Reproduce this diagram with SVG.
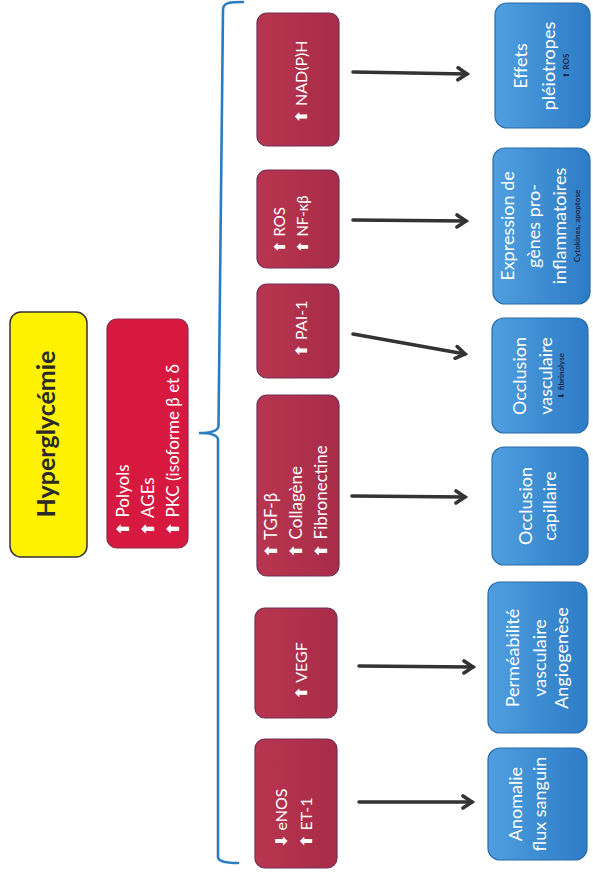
<svg xmlns="http://www.w3.org/2000/svg" width="593" height="881" viewBox="0 0 593 881">
<defs>
<linearGradient id="gBlue" x1="0" y1="0" x2="1" y2="0">
<stop offset="0" stop-color="#4f9fe0"/>
<stop offset="1" stop-color="#2d7cc6"/>
</linearGradient>
<linearGradient id="gRed" x1="0" y1="0" x2="1" y2="0">
<stop offset="0" stop-color="#b9354f"/>
<stop offset="1" stop-color="#a82c48"/>
</linearGradient>
<marker id="arr" markerUnits="userSpaceOnUse" markerWidth="16" markerHeight="16" refX="12" refY="8" orient="auto">
<path d="M3,2 L12,8 L3,14" fill="none" stroke="#333" stroke-width="3.6" stroke-linejoin="miter" stroke-linecap="round"/>
</marker>
</defs>
<style>
.t{font-family:Lato,"Open Sans","DejaVu Sans",sans-serif;}
.w{fill:#ffffff;}
.red{fill:url(#gRed);stroke:#6e3058;stroke-width:1.2;}
.red2{fill:#d7183f;stroke:#8a2a4a;stroke-width:1.2;}
.blue{fill:url(#gBlue);stroke:#2a6aa8;stroke-width:1.2;}
.ar{font-family:"DejaVu Sans",sans-serif;font-weight:bold;}
.sm{fill:#1b2a4c;font-weight:bold;}
.conn{stroke:#333;stroke-width:3.6;fill:none;stroke-linecap:round;}
</style>
<rect width="593" height="881" fill="#ffffff"/>

<g id="hyperglycemie">
<rect x="10" y="312" width="77" height="245" rx="11" fill="#fff200" stroke="#333" stroke-width="1.5"/>
<text class="t" x="55" y="434" transform="rotate(-90 55 434)" text-anchor="middle" font-size="25" font-weight="bold" fill="#2a2a2a">Hyperglycémie</text>
</g>

<g id="voies">
<rect class="red2" x="107" y="319" width="81" height="229" rx="10"/>
<text class="t w" font-size="17" x="129" y="536" transform="rotate(-90 129 536)"><tspan class="ar">⬆</tspan> Polyols</text>
<text class="t w" font-size="17" x="154" y="536" transform="rotate(-90 154 536)"><tspan class="ar">⬆</tspan> AGEs</text>
<text class="t w" font-size="17" x="179" y="536" transform="rotate(-90 179 536)"><tspan class="ar">⬆</tspan> PKC (isoforme β et δ</text>
</g>

<g id="brace">
<path d="M243,2 C228,2 223,3 223,10 L218.5,426 Q218,433 199,433 Q218,433 218,440 L218,857 Q218,863 238,863" fill="none" stroke="#2b7cc1" stroke-width="2.6" stroke-linecap="round"/>
</g>

<g id="nadph">
<rect class="red" x="257" y="13" width="82" height="133" rx="10"/>
<text class="t w" font-size="16" x="307" y="82" text-anchor="middle" transform="rotate(-90 307 82)"><tspan class="ar">⬆</tspan> NAD(P)H</text>
</g>

<g id="ros">
<rect class="red" x="257" y="170" width="82" height="98" rx="10"/>
<text class="t w" font-size="15" x="285" y="253" transform="rotate(-90 285 253)"><tspan class="ar">⬆</tspan> ROS</text>
<text class="t w" font-size="15" x="308" y="253" transform="rotate(-90 308 253)"><tspan class="ar">⬆</tspan> NF-κβ</text>
</g>

<g id="pai1">
<rect class="red" x="257" y="284" width="82" height="94" rx="10"/>
<text class="t w" font-size="16" x="307" y="329" text-anchor="middle" transform="rotate(-90 307 329)"><tspan class="ar">⬆</tspan> PAI-1</text>
</g>

<g id="tgf">
<rect class="red" x="257" y="395" width="82" height="181" rx="10"/>
<text class="t w" font-size="17" x="277" y="558" transform="rotate(-90 277 558)"><tspan class="ar">⬆</tspan> TGF-β</text>
<text class="t w" font-size="17" x="302" y="558" transform="rotate(-90 302 558)"><tspan class="ar">⬆</tspan> Collagène</text>
<text class="t w" font-size="17" x="327" y="558" transform="rotate(-90 327 558)"><tspan class="ar">⬆</tspan> Fibronectine</text>
</g>

<g id="vegf">
<rect class="red" x="255" y="608" width="82" height="110" rx="10"/>
<text class="t w" font-size="16" x="307" y="671" text-anchor="middle" transform="rotate(-90 307 671)"><tspan class="ar">⬆</tspan> VEGF</text>
</g>

<g id="enos">
<rect class="red" x="255" y="739" width="82" height="129" rx="10"/>
<text class="t w" font-size="16" x="287" y="848" transform="rotate(-90 287 848)"><tspan class="ar">⬇</tspan> eNOS</text>
<text class="t w" font-size="16" x="312" y="848" transform="rotate(-90 312 848)"><tspan class="ar">⬆</tspan> ET-1</text>
</g>

<g id="effets">
<rect class="blue" x="495" y="3" width="95" height="125" rx="12"/>
<text class="t w" font-size="18" x="527" y="66" text-anchor="middle" transform="rotate(-90 527 66)">Effets</text>
<text class="t w" font-size="18" x="555" y="66" text-anchor="middle" transform="rotate(-90 555 66)">pléiotropes</text>
<text class="t sm" font-size="8" x="569" y="66" text-anchor="middle" transform="rotate(-90 569 66)"><tspan class="ar">⬆</tspan> ROS</text>
</g>

<g id="expression">
<rect class="blue" x="493" y="148" width="97" height="156" rx="12"/>
<text class="t w" font-size="18" x="514" y="226" text-anchor="middle" transform="rotate(-90 514 226)">Expression de</text>
<text class="t w" font-size="18" x="540" y="226" text-anchor="middle" transform="rotate(-90 540 226)">gènes pro-</text>
<text class="t w" font-size="18" x="566" y="226" text-anchor="middle" transform="rotate(-90 566 226)">inflammatoires</text>
<text class="t sm" font-size="8" x="580" y="226" text-anchor="middle" transform="rotate(-90 580 226)">Cytokines, apoptose</text>
</g>

<g id="occl-vasc">
<rect class="blue" x="492" y="318" width="96" height="115" rx="12"/>
<text class="t w" font-size="18" x="526" y="376" text-anchor="middle" transform="rotate(-90 526 376)">Occlusion</text>
<text class="t w" font-size="18" x="552" y="376" text-anchor="middle" transform="rotate(-90 552 376)">vasculaire</text>
<text class="t sm" font-size="8" x="564" y="376" text-anchor="middle" transform="rotate(-90 564 376)"><tspan class="ar">⬇</tspan> fibrinolyse</text>
</g>

<g id="occl-cap">
<rect class="blue" x="492" y="447" width="96" height="118" rx="12"/>
<text class="t w" font-size="18" x="532" y="506" text-anchor="middle" transform="rotate(-90 532 506)">Occlusion</text>
<text class="t w" font-size="18" x="556" y="506" text-anchor="middle" transform="rotate(-90 556 506)">capillaire</text>
</g>

<g id="permeabilite">
<rect class="blue" x="488" y="582" width="99" height="151" rx="12"/>
<text class="t w" font-size="18" x="519" y="658" text-anchor="middle" transform="rotate(-90 519 658)">Perméabilité</text>
<text class="t w" font-size="18" x="546" y="658" text-anchor="middle" transform="rotate(-90 546 658)">vasculaire</text>
<text class="t w" font-size="18" x="568" y="658" text-anchor="middle" transform="rotate(-90 568 658)">Angiogenèse</text>
</g>

<g id="anomalie">
<rect class="blue" x="488" y="748" width="99" height="112" rx="12"/>
<text class="t w" font-size="18" x="522" y="804" text-anchor="middle" transform="rotate(-90 522 804)">Anomalie</text>
<text class="t w" font-size="18" x="546" y="804" text-anchor="middle" transform="rotate(-90 546 804)">flux sanguin</text>
</g>

<g id="connectors">
<line class="conn" x1="353" y1="72" x2="467" y2="74" marker-end="url(#arr)"/>
<line class="conn" x1="353" y1="220" x2="466" y2="221" marker-end="url(#arr)"/>
<line class="conn" x1="353" y1="334" x2="465" y2="354" marker-end="url(#arr)"/>
<line class="conn" x1="352" y1="496" x2="465" y2="497" marker-end="url(#arr)"/>
<line class="conn" x1="359" y1="666" x2="473" y2="667" marker-end="url(#arr)"/>
<line class="conn" x1="359" y1="802" x2="472" y2="802" marker-end="url(#arr)"/>
</g>
</svg>
